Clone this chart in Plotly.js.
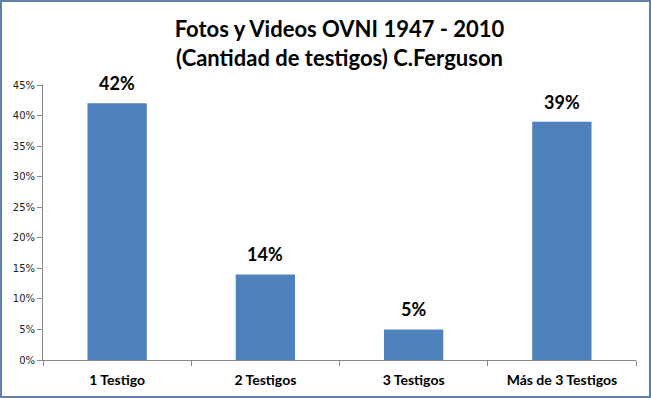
<!DOCTYPE html>
<html><head><meta charset="utf-8">
<script src="https://cdn.plot.ly/plotly-3.0.1.min.js"></script>
<style>
html,body{margin:0;padding:0;background:#fff;}
#wrap{position:relative;width:651px;height:398px;}
#chart{width:651px;height:398px;}
#frame{position:absolute;left:0;top:0;width:651px;height:398px;box-sizing:border-box;border:2px solid #5f7fa6;pointer-events:none;}
</style></head>
<body>
<div id="wrap"><div id="chart"></div><div id="frame"></div></div>
<script>
const categories = ["1 Testigo", "2 Testigos", "3 Testigos", "Más de 3 Testigos"];
const values = [0.42, 0.14, 0.05, 0.39];
const labels = ["42%", "14%", "5%", "39%"];
const yTicks = [0, 0.05, 0.10, 0.15, 0.20, 0.25, 0.30, 0.35, 0.40, 0.45];
const yTickText = ["0%", "5%", "10%", "15%", "20%", "25%", "30%", "35%", "40%", "45%"];

const trace = {
  type: "bar", x: categories, y: values,
  marker: {color: "#4f81bd"},
  hoverinfo: "skip"
};
const annotations = categories.map((c, i) => ({
  x: c, y: values[i], xref: "x", yref: "y",
  text: "<b>" + labels[i] + "</b>", showarrow: false,
  yanchor: "bottom", yshift: 7,
  font: {family: "Lato, 'Open Sans', sans-serif", size: 18, color: "#000"}
}));
const layout = {
  width: 651, height: 398,
  margin: {l: 43, r: 15, t: 85, b: 38},
  paper_bgcolor: "#fff", plot_bgcolor: "#fff",
  bargap: 0.6,
  showlegend: false,
  title: {
    text: "<b>Fotos y Videos OVNI 1947 - 2010<br>(Cantidad de testigos) C.Ferguson</b>",
    x: 0.5, xanchor: "center", xref: "paper",
    yref: "container", y: 0.907, yanchor: "middle",
    font: {family: "Lato, 'Open Sans', sans-serif", size: 22, color: "#000"}
  },
  xaxis: {
    type: "category",
    showline: true, linecolor: "#868686", linewidth: 1,
    ticks: "outside", ticklen: 5, tickcolor: "#868686", tickson: "boundaries",
    ticklabelstandoff: 7,
    showgrid: false, zeroline: false,
    tickfont: {family: "Lato, 'Open Sans', sans-serif", size: 14, color: "#000", weight: "bold"},
    fixedrange: true
  },
  yaxis: {
    range: [0, 0.45],
    tickvals: yTicks, ticktext: yTickText,
    showline: true, linecolor: "#868686", linewidth: 1,
    ticks: "outside", ticklen: 5, tickcolor: "#868686",
    showgrid: false, zeroline: false,
    tickfont: {family: "'DejaVu Sans', Verdana, sans-serif", size: 10, color: "#222"},
    fixedrange: true
  },
  annotations: annotations
};
Plotly.newPlot("chart", [trace], layout, {displayModeBar: false, staticPlot: true});
</script>
</body></html>
